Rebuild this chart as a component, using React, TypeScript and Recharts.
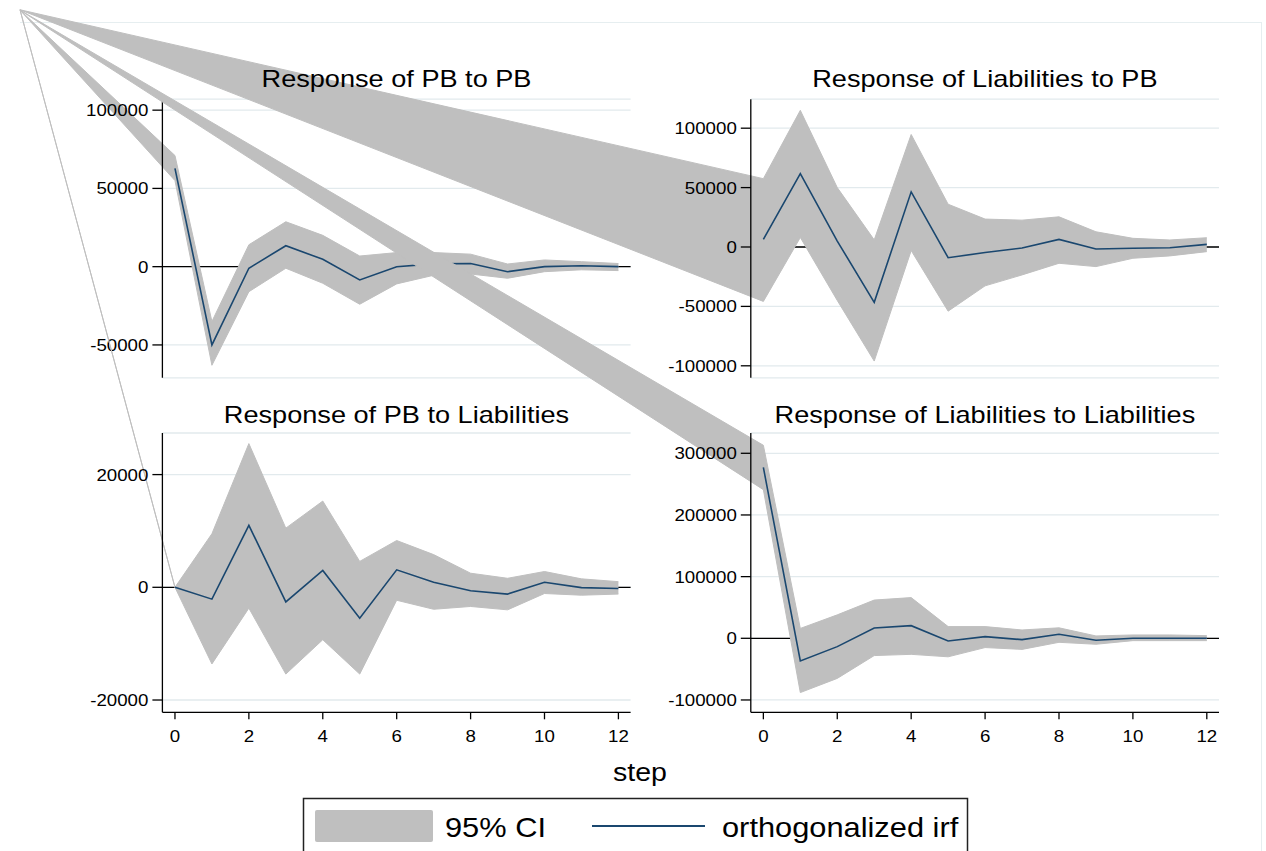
import React from 'react';
import { ComposedChart, Area, Line, XAxis, YAxis, CartesianGrid } from 'recharts';

const FONT = '"Liberation Sans", Arial, Helvetica, sans-serif';
const CI_GRAY = '#bfbfbf';
const IRF_NAVY = '#1a476f';

const steps = [0, 1, 2, 3, 4, 5, 6, 7, 8, 9, 10, 11, 12];
const stepTicks = [0, 2, 4, 6, 8, 10, 12];
const zeroLine = [0];

// Response of PB to PB
const pbPbIrf = [62800, -50000, -1000, 13400, 4700, -8500, 0, 1800, 2000, -3200, 0, 600, 0];
const pbPbLower = [55000, -63000, -16000, -1000, -10600, -24000, -11000, -5500, -4700, -7400, -3200, -2000, -2500];
const pbPbUpper = [71000, -35000, 14000, 28700, 20000, 6800, 9000, 9000, 8000, 1700, 4300, 3200, 2000];

// Response of Liabilities to PB
const liabPbIrf = [6400, 61700, 5000, -46600, 46400, -9000, -4700, -800, 6400, -1700, -1100, -600, 2200];
const liabPbLower = [-45800, 8000, -45000, -96000, -3000, -54000, -32700, -23500, -13700, -16500, -9500, -7500, -3900];
const liabPbUpper = [57500, 115000, 50000, 6000, 94700, 36000, 23500, 22600, 25400, 12800, 7300, 5900, 7800];

// Response of PB to Liabilities
const pbLiabIrf = [0, -2100, 11000, -2600, 3000, -5500, 3100, 900, -600, -1200, 900, -50, -200];
const pbLiabLower = [0, -13600, -3700, -15400, -9300, -15400, -2300, -3900, -3400, -4000, -1100, -1400, -1200];
const pbLiabUpper = [0, 9500, 25500, 10500, 15300, 4600, 8300, 5800, 2500, 1600, 2800, 1500, 1000];

// Response of Liabilities to Liabilities
const liabLiabIrf = [277000, -36800, -13500, 16800, 20500, -4300, 2700, -2200, 6500, -3200, 0, 0, 0];
const liabLiabLower = [241000, -88000, -65000, -28000, -26000, -30000, -15000, -18000, -6500, -9700, -3800, -3800, -3800];
const liabLiabUpper = [313000, 16000, 38000, 62000, 66000, 19000, 19000, 13500, 17000, 3800, 5400, 5400, 4300];

// the exported CI polygons all begin at the same stray vertex near the page corner,
// expressed here in each panel's own (step, value) units
const ciStartStep = [-4.19, -20.12, -4.19, -20.12];
const ciStartValue = [163850, 199700, 102400, 1018800];

const yTicksPbPb = [-50000, 0, 50000, 100000];
const yTicksLiabPb = [-100000, -50000, 0, 50000, 100000];
const yTicksPbLiab = [-20000, 0, 20000];
const yTicksLiabLiab = [-100000, 0, 100000, 200000, 300000];

const titles = [
  'Response of PB to PB',
  'Response of Liabilities to PB',
  'Response of PB to Liabilities',
  'Response of Liabilities to Liabilities',
];

const makeRows = (irf: number[], lower: number[], upper: number[], i: number) => [
  { step: ciStartStep[i], ci: [ciStartValue[i], ciStartValue[i]], irf: null },
  ...steps.map((s, k) => ({ step: s, ci: [lower[k], upper[k]], irf: irf[k] })),
];

const W = 1266;
const H = 851;
const X_DOMAIN: [number, number] = [-0.34, 12.33];

const panels = [
  { rows: makeRows(pbPbIrf, pbPbLower, pbPbUpper, 0), ticks: yTicksPbPb, domain: [-71000, 107000], left: 162.4, right: 630.6, top: 99.2, bottom: 377.8, showX: false },
  { rows: makeRows(liabPbIrf, liabPbLower, liabPbUpper, 1), ticks: yTicksLiabPb, domain: [-110100, 124400], left: 750.8, right: 1219, top: 99.2, bottom: 377.8, showX: false },
  { rows: makeRows(pbLiabIrf, pbLiabLower, pbLiabUpper, 2), ticks: yTicksPbLiab, domain: [-22180, 27380], left: 162.4, right: 630.6, top: 433, bottom: 712.3, showX: true },
  { rows: makeRows(liabLiabIrf, liabLiabLower, liabLiabUpper, 3), ticks: yTicksLiabLiab, domain: [-120000, 332900], left: 750.8, right: 1219, top: 433, bottom: 712.3, showX: true },
];

const YTick = (props: any) => {
  const { x, y, payload } = props;
  return (
    <text transform={`translate(${x - 4},${y + 6}) scale(1.1,1)`} textAnchor="end" fontSize={17} fill="#000" fontFamily={FONT}>
      {payload.value}
    </text>
  );
};

const XTick = (props: any) => {
  const { x, y, payload } = props;
  return (
    <text transform={`translate(${x},${y + 23}) scale(1.1,1)`} textAnchor="middle" fontSize={17} fill="#000" fontFamily={FONT}>
      {payload.value}
    </text>
  );
};

const Panel = ({ p }: { p: (typeof panels)[number] }) => {
  const axisW = 80;
  const xH = 40;
  return (
    <div className="irf-panel" style={{ position: 'absolute', left: 0, top: 0 }}>
      <ComposedChart
        width={W}
        height={H}
        data={p.rows}
        margin={{
          top: p.top,
          left: p.left - axisW,
          right: W - p.right,
          bottom: H - p.bottom - (p.showX ? xH : 0),
        }}
      >
        <CartesianGrid vertical={false} stroke="#e2eaed" strokeWidth={1.3} />
        {/* zero line sits under the CI band, as in the Stata export */}
        <CartesianGrid vertical={false} horizontalValues={zeroLine} stroke="#000" strokeWidth={1.3} />
        <Area
          type="linear"
          dataKey="ci"
          stroke={CI_GRAY}
          strokeWidth={1}
          fill={CI_GRAY}
          fillOpacity={1}
          dot={false}
          activeDot={false}
          isAnimationActive={false}
        />
        <Line
          type="linear"
          dataKey="irf"
          stroke={IRF_NAVY}
          strokeWidth={1.6}
          dot={false}
          activeDot={false}
          connectNulls={false}
          isAnimationActive={false}
        />
        <XAxis
          type="number"
          dataKey="step"
          domain={X_DOMAIN}
          allowDataOverflow
          ticks={stepTicks}
          interval={0}
          hide={!p.showX}
          height={xH}
          tickSize={7}
          tickMargin={0}
          axisLine={{ stroke: '#000', strokeWidth: 1.3 }}
          tickLine={{ stroke: '#000', strokeWidth: 1.3 }}
          tick={(t: any) => <XTick {...t} />}
        />
        <YAxis
          type="number"
          domain={p.domain}
          allowDataOverflow
          ticks={p.ticks}
          interval={0}
          width={axisW}
          tickSize={10}
          tickMargin={0}
          axisLine={{ stroke: '#000', strokeWidth: 1.3 }}
          tickLine={{ stroke: '#000', strokeWidth: 1.3 }}
          tick={(t: any) => <YTick {...t} />}
        />
      </ComposedChart>
    </div>
  );
};

const titlePos = [
  { x: 396.5, y: 86.7 },
  { x: 984.9, y: 86.7 },
  { x: 396.5, y: 423.3 },
  { x: 984.9, y: 423.3 },
];

export default function App() {
  return (
    <div style={{ position: 'absolute', left: 0, top: 0, width: W, height: H, overflow: 'hidden', background: '#fff', fontFamily: FONT }}>
      <style>{`.irf-panel .recharts-area, .irf-panel .recharts-area * { clip-path: none !important; }`}</style>
      <div style={{ position: 'absolute', left: 20, top: 22, width: 1241, height: 900, borderTop: '1.5px solid #e6eef0', borderRight: '1.5px solid #e6eef0' }} />
      {panels.map((p, i) => (
        <Panel key={i} p={p} />
      ))}
      <svg width={W} height={H} style={{ position: 'absolute', left: 0, top: 0, pointerEvents: 'none' }}>
        {titles.map((t, i) => (
          <text
            key={t}
            transform={`translate(${titlePos[i].x},${titlePos[i].y}) scale(1.18,1)`}
            textAnchor="middle"
            fontSize={23}
            fill="#000"
            fontFamily={FONT}
          >
            {t}
          </text>
        ))}
        <text transform="translate(640,781) scale(1.12,1)" textAnchor="middle" fontSize={25.5} fill="#000" fontFamily={FONT}>
          step
        </text>
        <rect x={303.5} y={798.5} width={664} height={80} fill="#fff" stroke="#222" strokeWidth={1.5} />
        <rect x={315} y={810} width={118} height={32} rx={2} fill={CI_GRAY} />
        <text transform="translate(445,836.5) scale(1.12,1)" fontSize={27.5} fill="#000" fontFamily={FONT}>
          95% CI
        </text>
        <line x1={592} x2={705} y1={826} y2={826} stroke={IRF_NAVY} strokeWidth={2.2} />
        <text transform="translate(722,836.5) scale(1.12,1)" fontSize={27.5} fill="#000" fontFamily={FONT}>
          orthogonalized irf
        </text>
      </svg>
    </div>
  );
}
